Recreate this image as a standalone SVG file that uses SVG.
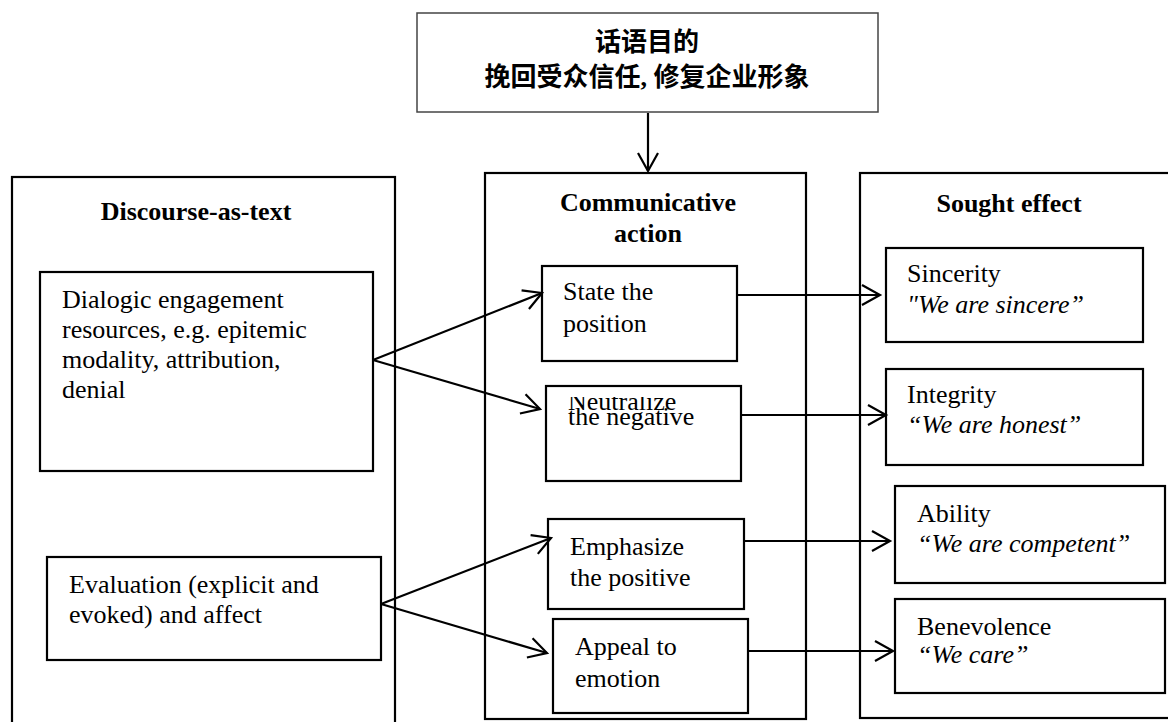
<svg xmlns="http://www.w3.org/2000/svg" width="1168" height="722" viewBox="0 0 1168 722">
<style>
.box{fill:#fff;stroke:#000;stroke-width:2.2}
.top{fill:#fff;stroke:#444;stroke-width:1.5}
.t{font-family:"Liberation Serif","Times New Roman",serif;font-size:26px;fill:#000}
.b{font-weight:bold;text-anchor:middle}
.i{font-style:italic}
.cjk{font-family:"Liberation Serif","Noto Sans CJK SC",sans-serif;font-size:26px;font-weight:bold;text-anchor:middle;fill:#000}
.c{fill:none;stroke:#000;stroke-width:2.2}
</style>
<defs>
<marker id="ah" viewBox="0 0 22 22" refX="19" refY="11" markerWidth="22" markerHeight="22" markerUnits="userSpaceOnUse" orient="auto" overflow="visible">
<path d="M1,1 L19,11 L1,21" fill="none" stroke="#000" stroke-width="2.2"/>
</marker>
<clipPath id="nclip"><rect x="540" y="397" width="200" height="40"/></clipPath>
</defs>

<g id="goal">
<rect class="top" x="417" y="13" width="461" height="99"/>
<text class="cjk" x="647" y="51">话语目的</text>
<text class="cjk" x="647" y="86">挽回受众信任, 修复企业形象</text>
</g>

<g id="discourse-as-text">
<rect class="box" x="12" y="177" width="383" height="560"/>
<text class="t b" x="196" y="220">Discourse-as-text</text>
</g>
<g id="dialogic">
<rect class="box" x="40" y="272" width="333" height="199"/>
<text class="t" x="62" y="308">Dialogic engagement</text>
<text class="t" x="62" y="338">resources, e.g. epitemic</text>
<text class="t" x="62" y="368">modality, attribution,</text>
<text class="t" x="62" y="398">denial</text>
</g>
<g id="evaluation">
<rect class="box" x="47" y="557" width="334" height="103"/>
<text class="t" x="69" y="593">Evaluation (explicit and</text>
<text class="t" x="69" y="623">evoked) and affect</text>
</g>

<g id="communicative-action">
<rect class="box" x="485" y="173" width="321" height="546"/>
<text class="t b" x="648" y="211">Communicative</text>
<text class="t b" x="648" y="242">action</text>
</g>
<g id="state">
<rect class="box" x="542" y="266" width="195" height="95"/>
<text class="t" x="563" y="300">State the</text>
<text class="t" x="563" y="332">position</text>
</g>
<g id="neutralize">
<rect class="box" x="546" y="386" width="195" height="95"/>
<text class="t" x="568" y="410" clip-path="url(#nclip)">Neutralize</text>
<text class="t" x="568" y="425">the negative</text>
</g>
<g id="emphasize">
<rect class="box" x="548" y="519" width="196" height="90"/>
<text class="t" x="570" y="555">Emphasize</text>
<text class="t" x="570" y="586">the positive</text>
</g>
<g id="appeal">
<rect class="box" x="553" y="619" width="195" height="94"/>
<text class="t" x="575" y="655">Appeal to</text>
<text class="t" x="575" y="687">emotion</text>
</g>

<g id="sought-effect">
<rect class="box" x="860" y="173" width="330" height="545"/>
<text class="t b" x="1009" y="212">Sought effect</text>
</g>
<g id="sincerity">
<rect class="box" x="886" y="248" width="257" height="94"/>
<text class="t" x="907" y="282">Sincerity</text>
<text class="t i" x="907" y="313">"We are sincere”</text>
</g>
<g id="integrity">
<rect class="box" x="886" y="369" width="257" height="96"/>
<text class="t" x="907" y="403">Integrity</text>
<text class="t i" x="907" y="433">“We are honest”</text>
</g>
<g id="ability">
<rect class="box" x="895" y="486" width="270" height="97"/>
<text class="t" x="917" y="522">Ability</text>
<text class="t i" x="917" y="552">“We are competent”</text>
</g>
<g id="benevolence">
<rect class="box" x="895" y="599" width="270" height="94"/>
<text class="t" x="917" y="635">Benevolence</text>
<text class="t i" x="917" y="663">“We care”</text>
</g>

<g id="connectors">
<line class="c" x1="648" y1="113" x2="648" y2="171" marker-end="url(#ah)"/>
<line class="c" x1="373" y1="360" x2="542" y2="293" marker-end="url(#ah)"/>
<line class="c" x1="373" y1="360" x2="540" y2="409" marker-end="url(#ah)"/>
<line class="c" x1="381" y1="604" x2="551" y2="538" marker-end="url(#ah)"/>
<line class="c" x1="381" y1="604" x2="547" y2="653" marker-end="url(#ah)"/>
<line class="c" x1="737" y1="295" x2="880" y2="295" marker-end="url(#ah)"/>
<line class="c" x1="741" y1="415" x2="886" y2="415" marker-end="url(#ah)"/>
<line class="c" x1="744" y1="541" x2="890" y2="541" marker-end="url(#ah)"/>
<line class="c" x1="748" y1="651" x2="893" y2="651" marker-end="url(#ah)"/>
</g>
</svg>
